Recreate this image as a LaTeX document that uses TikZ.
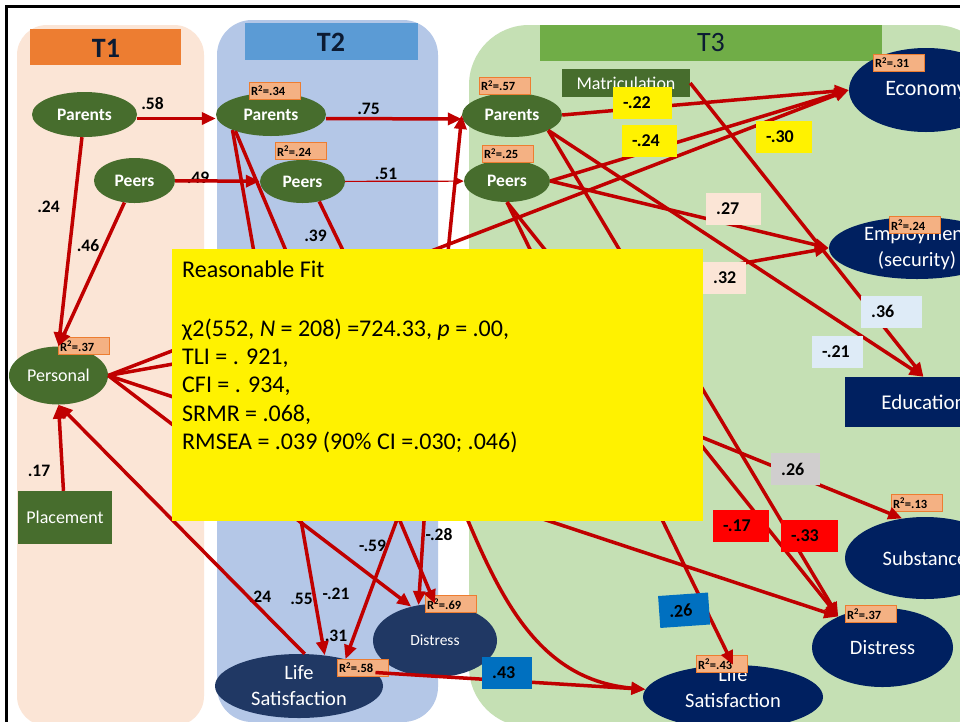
\documentclass[tikz,border=0pt]{standalone}
\usepackage{fontspec}
\setmainfont{Carlito}
\usetikzlibrary{arrows.meta,shapes.geometric}
\definecolor{pnlone}{HTML}{FBE5D6}
\definecolor{hdrone}{HTML}{ED7D31}
\definecolor{pnltwo}{HTML}{B4C7E7}
\definecolor{hdrtwo}{HTML}{5B9BD5}
\definecolor{pnlthree}{HTML}{C5E0B4}
\definecolor{hdrthree}{HTML}{70AD47}
\definecolor{hdrtext}{HTML}{0C1B33}
\definecolor{leaf}{HTML}{476D2D}
\definecolor{navy}{HTML}{002060}
\definecolor{navytwo}{HTML}{203864}
\definecolor{pathred}{HTML}{C00000}
\definecolor{rfill}{HTML}{F4B183}
\definecolor{rline}{HTML}{ED7D31}
\definecolor{lblue}{HTML}{DEEBF7}
\definecolor{lgrey}{HTML}{D0CECE}
\definecolor{mblue}{HTML}{0070C0}
\begin{document}
\begin{tikzpicture}[x=1pt,y=-1pt,
  latent/.style={ellipse,fill=leaf,text=white,inner sep=0pt,font=\fontsize{17.5}{20}\selectfont\bfseries},
  measured/.style={rectangle,fill=leaf,text=white,inner sep=0pt,font=\fontsize{18}{20}\selectfont},
  outcome/.style={ellipse,fill=navy,text=white,inner xsep=0pt,inner ysep=-4pt,align=center,font=\fontsize{20.5}{26}\selectfont},
  rsq/.style={draw=rline,fill=rfill,line width=1pt,anchor=west,minimum height=17pt,inner xsep=1.5pt,inner ysep=0pt,text width=48pt,align=left,font=\fontsize{12.5}{13}\selectfont\bfseries},
  coef/.style={inner sep=0pt,font=\fontsize{17.5}{20}\selectfont\bfseries},
  coefbox/.style={anchor=west,minimum height=32pt,inner xsep=10pt,inner ysep=0pt,align=left,font=\fontsize{18}{20}\selectfont\bfseries},
  fitline/.style={anchor=base west,inner sep=0pt,font=\fontsize{24}{28}\selectfont},
  hdr/.style={inner sep=0pt,text=hdrtext,font=\fontsize{28}{30}\selectfont\bfseries},
  arr/.style={draw=pathred,line width=3.5pt,-{Triangle[length=14pt,width=12pt]}},
  thinarr/.style={draw=pathred,line width=1.2pt,-{Triangle[length=8pt,width=7pt]}}]
\useasboundingbox (0,0) rectangle (960,721);
\fill[white] (0,0) rectangle (960,721);
\fill[pnlone,rounded corners=30pt] (17,25) rectangle (204,726);
\fill[pnltwo,rounded corners=35pt] (217,20) rectangle (438,722);
\fill[pnlthree,rounded corners=60pt] (469,25) rectangle (995,727);
\draw[line width=3pt] (6.5,6.5) rectangle (1100,900);
\fill[hdrone] (30,29) rectangle (181,65);
\fill[hdrtwo] (245,23) rectangle (418,60);
\fill[hdrthree] (540,25) rectangle (882,61);
\node[hdr] (t1) at (106,48) {T1};
\node[hdr] (t2) at (331,42) {T2};
\node[hdr,font=\fontsize{28}{30}\selectfont] (t3) at (711,43) {T3};

\node[latent,minimum width=105pt,minimum height=45pt] (par1) at (84.5,114.5) {Parents};
\node[latent,minimum width=81pt,minimum height=45pt] (peer1) at (134.5,180.5) {Peers};
\node[latent,font=\fontsize{18}{20}\selectfont,minimum width=99pt,minimum height=58pt] (pers1) at (58.5,375.5) {Personal};
\node[measured,minimum width=94pt,minimum height=53pt] (plac1) at (65,517.5) {Placement};
\node[latent,minimum width=110pt,minimum height=43pt] (par2) at (271,114.5) {Parents};
\node[latent,minimum width=85pt,minimum height=43pt] (peer2) at (302.5,181.5) {Peers};
\node[outcome,fill=navytwo,minimum width=168pt,minimum height=64pt] (life2) at (299,686) {Life\\Satisfaction};
\node[outcome,fill=navytwo,font=\fontsize{15.5}{18}\selectfont,minimum width=124pt,minimum height=73pt] (dist2) at (435,640.5) {Distress};
\node[latent,minimum width=100pt,minimum height=44pt] (par3) at (512,115) {Parents};
\node[latent,minimum width=86pt,minimum height=42pt] (peer3) at (507,181) {Peers};
\node[measured,minimum width=128pt,minimum height=28pt] (matr3) at (626,83) {Matriculation};
\node[outcome,font=\fontsize{22}{26}\selectfont,minimum width=154pt,minimum height=84pt] (econ3) at (926,90) {Economy};
\node[outcome,minimum width=176pt,minimum height=62pt] (empl3) at (917,248) {Employment\\(security)};
\node[measured,fill=navy,font=\fontsize{21}{24}\selectfont,minimum width=157pt,minimum height=50pt] (educ3) at (923.5,402) {Education};
\node[outcome,minimum width=160pt,minimum height=82pt] (subs3) at (925,558) {Substance};
\node[outcome,minimum width=141pt,minimum height=79pt] (dist3) at (882.5,647.5) {Distress};
\node[outcome,minimum width=180pt,minimum height=64pt] (life3) at (733,697) {};
\node[text=white,align=center,inner sep=0pt,font=\fontsize{20.5}{26}\selectfont] (life3txt) at (733,688) {Life\\Satisfaction};
\coordinate (hid2) at (430,430);
\coordinate (hid3) at (615,402);

\foreach \rx/\ry/\rv [count=\i] in {249/90.5/.34,275/151/.24,58/346/.37,479/85.5/.57,482/153.5/.25,873/62.5/.31,889/225/.24,891/503/.13,845/614/.37,696/664/.43,425/604/.69,337/667.5/.58}
{
   \node[rsq] (r\i) at (\rx,\ry) {R\textsuperscript{2}=\rv};
}

\foreach \px/\py/\txt [count=\i] in {152.5/104/.58,48.5/206.5/.24,88/246/.46,198/178/.49,368.5/109/.75,386/173.5/.51,315.5/236/.39,39/471/.17,260/596.5/.24,301.5/599/.55,336/594/-.21,336/635.5/.31,372.5/545.5/-.59,439/535/-.28}
{
   \node[coef] (w\i) at (\px,\py) {\txt};
}

\draw[arr] ([yshift=-4pt]par1.east) -- ([yshift=-4pt]par2.west);
\draw[arr] (par1) -- (pers1.north);
\draw[arr] (peer1) -- (pers1.north);
\draw[arr] (peer1) -- (peer2);
\draw[arr] (plac1) -- (pers1.south);
\draw[arr] (life2.80) -- (pers1.south);
\draw[arr] ([yshift=-4pt]par2.east) -- ([yshift=-4pt]par3.west);
\draw[thinarr] (peer2) -- (peer3);
\draw[arr] (pers1.east) -- (econ3.west);
\draw[arr] (pers1.east) -- (empl3.west);
\draw[arr] (pers1.east) -- (dist2.125);
\draw[arr] (pers1.east) -- (dist3.145);
\draw[arr] (par2.202) -- (life2.50);
\draw[arr] (par2.205) -- (dist2.north);
\draw[arr] (peer2.-50) -- (hid2);
\draw[arr] (hid2) -- (par3.west);
\draw[arr] (hid2) -- (life2.30);
\draw[arr] (hid2) -- (dist2.115);
\draw[arr] (hid2) to[out=-66,in=175] (life3.175);
\draw[arr] (life2.10) -- (life3.175);
\draw[arr] (par3.east) -- (econ3.west);
\draw[arr] (peer3.east) -- (econ3.west);
\draw[arr] (peer3.east) -- (empl3.west);
\draw[arr] (matr3.east) -- (educ3.north);
\draw[arr] (par3.-23) -- (educ3.north);
\draw[arr] (par3.-23) -- (dist3.145);
\draw[arr] (peer3.south) -- (dist3.145);
\draw[arr] (peer3.south) -- (life3.north);
\draw[arr] (hid3) -- (subs3.120);

\foreach \bx/\by/\bw/\bc/\bt [count=\i] in {613/102.5/39/yellow/-.22,622/140.5/35/yellow/-.24,756/136.5/36/yellow/-.30,706/209/35/pnlone/.27,703/278/23/pnlone/.32,861/311.5/41/lblue/.36,812/352/31/lblue/-.21,771/469/29/lgrey/.26,713/526/36/red/-.17,781/536/37/red/-.33,482/673/30/mblue/.43}
{
   \node[coefbox,fill=\bc,text width=\bw pt] (b\i) at (\bx,\by) {\bt};
}
\node[coefbox,fill=mblue,text width=30pt,rotate=4] (b12) at (659,612) {.26};

\fill[yellow] (172,249) rectangle (703,521);
\node[fitline] (f1) at (182,277) {Reasonable Fit};
\node[fitline] (f2) at (182,336.5) {χ2(552, \textit{N} = 208) =724.33, \textit{p} = .00,};
\node[fitline] (f3) at (182,364) {TLI = . 921,};
\node[fitline] (f4) at (182,392.5) {CFI = . 934,};
\node[fitline] (f5) at (182,421) {SRMR = .068,};
\node[fitline] (f6) at (182,449.5) {RMSEA = .039 (90\% CI =.030; .046)};
\end{tikzpicture}
\end{document}
